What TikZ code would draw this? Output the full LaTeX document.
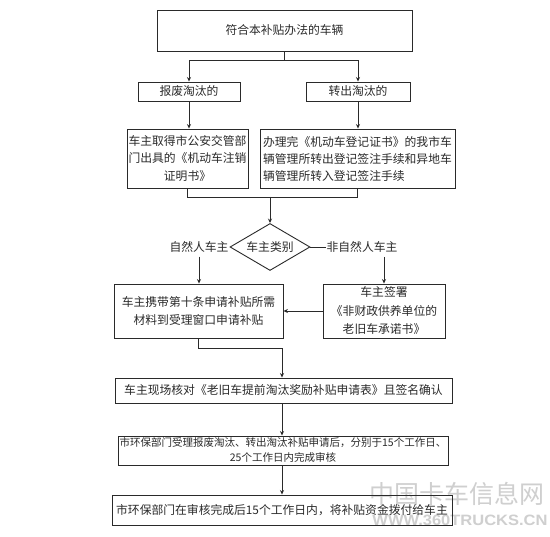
\documentclass[tikz,border=0pt]{standalone}
\usepackage{fontspec}
\newfontfamily\cjk{Noto Sans CJK SC}
\newfontfamily\wmlat{Liberation Sans}
\usetikzlibrary{shapes.geometric,arrows.meta}
\definecolor{ink}{HTML}{2A2A2A}
\definecolor{wmgray}{HTML}{CFCFCF}
\begin{document}
\begin{tikzpicture}[x=1pt,y=-1pt,
  box/.style={draw=ink,line width=0.9pt,inner sep=0pt,text=ink,
    font=\cjk\fontsize{11.8}{17.5}\selectfont,align=center},
  lbl/.style={inner sep=0pt,text=ink,font=\cjk\fontsize{11.8}{15}\selectfont},
  ln/.style={draw=ink,line width=0.7pt},
  arr/.style={draw=ink,line width=0.7pt,-{Stealth[length=4.5pt,width=4pt]}},
  wm/.style={inner sep=0pt,text=wmgray}]
\fill[white] (0,0) rectangle (550,537);
\useasboundingbox (0,0) rectangle (550,537);

% watermark
\node[wm,font=\cjk\fontsize{25}{25}\selectfont] (wm1) at (457,494) {中国卡车信息网};
\node[wm,font=\wmlat\bfseries\fontsize{15}{15}\selectfont,xscale=1.1] (wm2) at (460,520) {WWW.360TRUCKS.CN};

% nodes
\node[box,minimum width=255,minimum height=41] (top) at (284.5,30.5) {符合本补贴办法的车辆};
\node[box,minimum width=102,minimum height=19] (bf) at (189,91.5) {报废淘汰的};
\node[box,minimum width=104,minimum height=19] (zc) at (358,91.5) {转出淘汰的};
\node[box,minimum width=121,minimum height=59] (lb) at (187.5,158.5)
  {车主取得市公安交管部\\门出具的《机动车注销\\证明书》};
\node[box,minimum width=195,minimum height=59,align=left,font=\cjk\fontsize{11.8}{17}\selectfont] (rb) at (357.5,158.5)
  {办理完《机动车登记证书》的我市车\\辆管理所转出登记签注手续和异地车\\辆管理所转入登记签注手续};
\node[box,diamond,aspect=1.7,minimum width=80,minimum height=47] (dia) at (270,247) {车主类别};
\node[lbl] (nat) at (199,247) {自然人车主};
\node[lbl] (non) at (362,247) {非自然人车主};
\node[box,minimum width=169,minimum height=54] (b2l) at (198.5,311)
  {车主携带第十条申请补贴所需\\材料到受理窗口申请补贴};
\node[box,minimum width=122,minimum height=54,font=\cjk\fontsize{11.8}{18.5}\selectfont] (b2r) at (384,311)
  {车主签署\\《非财政供养单位的\\老旧车承诺书》};
\node[box,minimum width=337,minimum height=25] (cf) at (283.5,390.5)
  {车主现场核对《老旧车提前淘汰奖励补贴申请表》且签名确认};
\node[box,minimum width=330,minimum height=29,font=\cjk\fontsize{10.5}{15}\selectfont] (sl) at (283,450.5)
  {市环保部门受理报废淘汰、转出淘汰补贴申请后，分别于15个工作日、\\25个工作日内完成审核};
\node[box,minimum width=340,minimum height=30] (bk) at (282,510)
  {市环保部门在审核完成后15个工作日内，将补贴资金拨付给车主};

% connectors
\coordinate (t1) at (284.5,60);
\draw[ln] (top.south) -- (t1);
\draw[arr] (t1) -| (bf.north);
\draw[arr] (t1) -| (zc.north);
\draw[arr] (bf.south) -- (bf.south |- lb.north);
\draw[arr] (zc.south) -- (zc.south |- rb.north);
\coordinate (m) at (270,197);
\draw[ln] (lb.south) |- (rb.south |- m) -- (rb.south);
\draw[arr] (m) -- (dia.north);
\draw[ln] (dia.east) -- (non.west);
\draw[arr,shorten <=4pt] (nat.south) -- (nat.south |- b2l.north);
\coordinate (nr) at (384,257);
\draw[arr] (nr) -- (nr |- b2r.north);
\draw[arr] (b2r.west) -- (b2r.west -| b2l.east);
\coordinate (j1) at (282,348);
\draw[arr] (b2l.south) |- (j1) -- (j1 |- cf.north);
\draw[arr] (j1 |- cf.south) -- (j1 |- sl.north);
\draw[arr] (j1 |- sl.south) -- (j1 |- bk.north);
\end{tikzpicture}
\end{document}
